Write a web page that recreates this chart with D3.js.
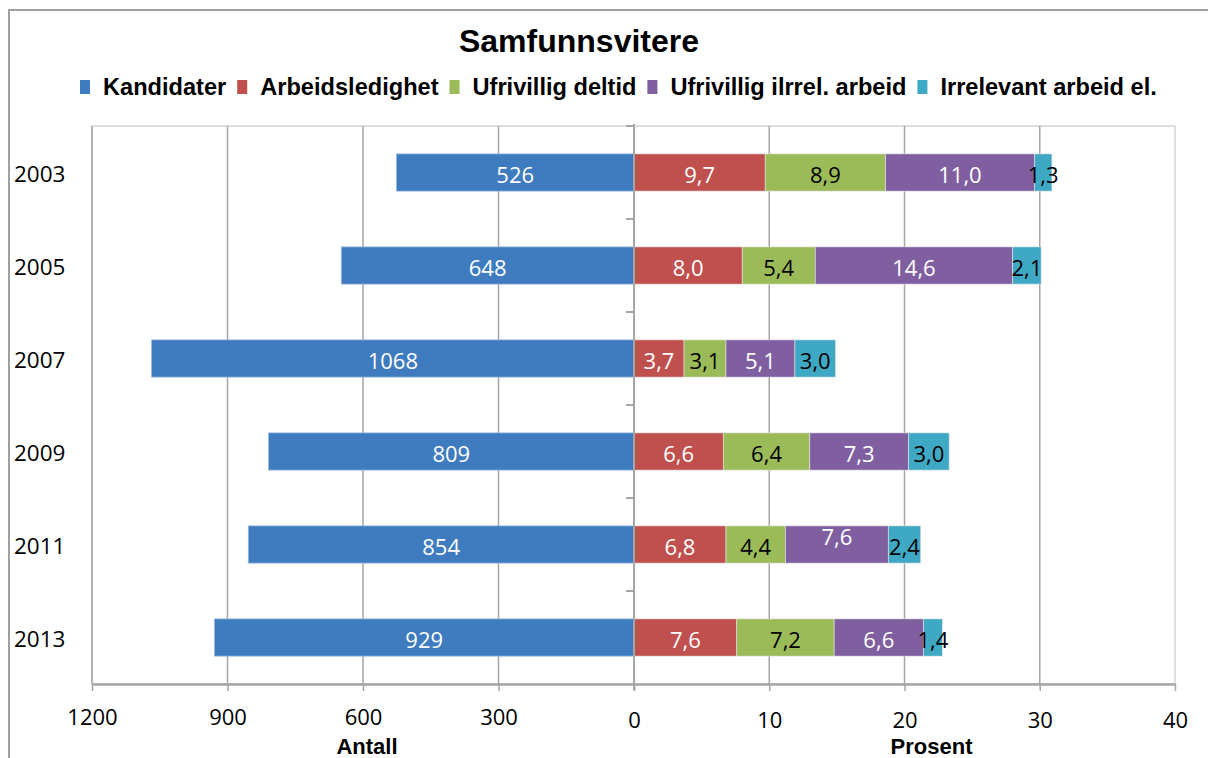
<!DOCTYPE html>
<html>
<head>
<meta charset="utf-8">
<script src="https://cdn.jsdelivr.net/npm/d3@7"></script>
<style>
  html, body { margin: 0; padding: 0; background: #fff; }
  svg { display: block; }
</style>
</head>
<body>
<svg id="chart" width="1208" height="758"></svg>
<script>
// Candidate counts and unemployment-type shares per survey year
const years = ["2003", "2005", "2007", "2009", "2011", "2013"];
const kandidater = [526, 648, 1068, 809, 854, 929];
const arbeidsledighet = [9.7, 8.0, 3.7, 6.6, 6.8, 7.6];
const ufrivilligDeltid = [8.9, 5.4, 3.1, 6.4, 4.4, 7.2];
const ufrivilligIlrrel = [11.0, 14.6, 5.1, 7.3, 7.6, 6.6];
const irrelevantArbeid = [1.3, 2.1, 3.0, 3.0, 2.4, 1.4];

const antallTicks = [1200, 900, 600, 300, 0];
const prosentTicks = [0, 10, 20, 30, 40];

const seriesNames = ["Kandidater", "Arbeidsledighet", "Ufrivillig deltid", "Ufrivillig ilrrel. arbeid", "Irrelevant arbeid el."];
const colors = ["#3f7cbf", "#c0504d", "#9bbb59", "#7f5fa0", "#3fa9c5"];
const labelColors = ["#fff", "#fff", "#000", "#fff", "#000"];

const svg = d3.select("#chart");
const numFont = "'Open Sans', 'DejaVu Sans', sans-serif";
const boldFont = "'Liberation Sans', Arial, sans-serif";

const plot = { left: 92, right: 1175, top: 126, bottom: 684 };
const x0 = 634;

const xAntall = d3.scaleLinear().domain([1200, 0]).range([plot.left, x0]);
const xProsent = d3.scaleLinear().domain([0, 40]).range([x0, plot.right]);
const y = d3.scaleBand().domain(years).range([plot.top, plot.bottom]).paddingInner(0.6).paddingOuter(0.3);

// Outer chart border
svg.append("path")
  .attr("d", "M9,758 V10 H1208")
  .attr("fill", "none").attr("stroke", "#a0a0a0").attr("stroke-width", 2);

// Plot frame
svg.append("rect")
  .attr("x", plot.left).attr("y", plot.top)
  .attr("width", plot.right - plot.left).attr("height", plot.bottom - plot.top)
  .attr("fill", "none").attr("stroke", "#d4d4d4").attr("stroke-width", 1.5);

// Vertical gridlines
const grid = svg.append("g");
antallTicks.filter(d => d !== 0).forEach(d => {
  grid.append("line").attr("x1", xAntall(d)).attr("x2", xAntall(d))
    .attr("y1", plot.top).attr("y2", plot.bottom).attr("stroke", "#a6a6a6").attr("stroke-width", 1.5);
});
prosentTicks.filter(d => d !== 0 && d !== 40).forEach(d => {
  grid.append("line").attr("x1", xProsent(d)).attr("x2", xProsent(d))
    .attr("y1", plot.top).attr("y2", plot.bottom).attr("stroke", "#a6a6a6").attr("stroke-width", 1.5);
});

// Bars
const rows = years.map((yr, i) => ({
  year: yr,
  antall: kandidater[i],
  shares: [arbeidsledighet[i], ufrivilligDeltid[i], ufrivilligIlrrel[i], irrelevantArbeid[i]]
}));

const bars = svg.append("g");
const labels = svg.append("g")
  .attr("font-family", numFont).attr("font-size", 22)
  .attr("text-anchor", "middle").attr("dominant-baseline", "central");

const fmt = v => v.toFixed(1).replace(".", ",");

rows.forEach(r => {
  const by = y(r.year), bh = y.bandwidth();
  bars.append("rect")
    .attr("x", xAntall(r.antall)).attr("y", by)
    .attr("width", x0 - xAntall(r.antall)).attr("height", bh)
    .attr("fill", colors[0]).attr("stroke", "#9bb8de").attr("stroke-width", 0.8);
  labels.append("text")
    .attr("x", (xAntall(r.antall) + x0) / 2).attr("y", by + bh / 2 + 1)
    .attr("fill", labelColors[0]).text(r.antall);

  let acc = 0;
  r.shares.forEach((v, k) => {
    const xa = xProsent(acc), xb = xProsent(acc + v);
    bars.append("rect")
      .attr("x", xa).attr("y", by).attr("width", xb - xa).attr("height", bh)
      .attr("fill", colors[k + 1]).attr("stroke", "#e6e6e6").attr("stroke-width", 0.6);
    // the 2011 purple label sits above the centre line
    const lift = (r.year === "2011" && k === 2) ? -10 : 0;
    labels.append("text")
      .attr("x", (xa + xb) / 2).attr("y", by + bh / 2 + 1 + lift)
      .attr("fill", labelColors[k + 1]).text(fmt(v));
    acc += v;
  });
});

// Central zero axis with category ticks
svg.append("line").attr("x1", x0).attr("x2", x0)
  .attr("y1", plot.top - 2).attr("y2", plot.bottom + 6)
  .attr("stroke", "#a6a6a6").attr("stroke-width", 2);
const catEdges = d3.range(years.length).map(i => plot.top + i * y.step());
svg.append("g").selectAll("line").data(catEdges).join("line")
  .attr("x1", x0 - 8).attr("x2", x0).attr("y1", d => d).attr("y2", d => d)
  .attr("stroke", "#a6a6a6").attr("stroke-width", 2);

// Bottom axes (the shared zero is labelled once, on the percent side)
function styleAxis(g) {
  g.select(".domain").attr("stroke", "#a6a6a6").attr("stroke-width", 2.5);
  g.selectAll(".tick line").attr("stroke", "#a6a6a6").attr("stroke-width", 1.5);
  g.selectAll(".tick text").attr("font-family", numFont).attr("font-size", 22).attr("fill", "#000");
}
svg.append("g").attr("transform", `translate(0,${plot.bottom})`)
  .call(d3.axisBottom(xAntall).tickValues(antallTicks).tickSize(7).tickSizeOuter(0).tickPadding(18)
    .tickFormat(d => d === 0 ? "" : d3.format("d")(d)))
  .call(styleAxis);
svg.append("g").attr("transform", `translate(0,${plot.bottom})`)
  .call(d3.axisBottom(xProsent).tickValues(prosentTicks).tickSize(7).tickSizeOuter(0).tickPadding(21).tickFormat(d3.format("d")))
  .call(styleAxis);

// Year labels
svg.append("g").selectAll("text").data(years).join("text")
  .attr("x", 14).attr("y", d => y(d) + y.bandwidth() / 2 + 1)
  .attr("dominant-baseline", "central")
  .attr("font-family", numFont).attr("font-size", 22.5).attr("fill", "#000")
  .text(d => d);

// Axis titles
svg.append("text").attr("x", (plot.left + x0) / 2 + 4).attr("y", 754)
  .attr("text-anchor", "middle").attr("font-family", boldFont).attr("font-weight", "bold")
  .attr("font-size", 22).text("Antall");
svg.append("text").attr("x", xProsent(22)).attr("y", 754)
  .attr("text-anchor", "middle").attr("font-family", boldFont).attr("font-weight", "bold")
  .attr("font-size", 22).text("Prosent");

// Title
svg.append("text").attr("x", 579).attr("y", 52)
  .attr("text-anchor", "middle").attr("font-family", boldFont).attr("font-weight", "bold")
  .attr("font-size", 32).attr("fill", "#000").text("Samfunnsvitere");

// Legend laid out left to right
const legend = svg.append("g").attr("font-family", boldFont).attr("font-weight", "bold").attr("font-size", 23.6);
let lx = 80;
seriesNames.forEach((name, i) => {
  legend.append("rect").attr("x", lx).attr("y", 80).attr("width", 10).attr("height", 14).attr("fill", colors[i]);
  const t = legend.append("text").attr("x", lx + 23).attr("y", 95).attr("fill", "#000").text(name);
  const w = t.node().getComputedTextLength();
  lx += 23 + w + 11;
});
</script>
</body>
</html>
